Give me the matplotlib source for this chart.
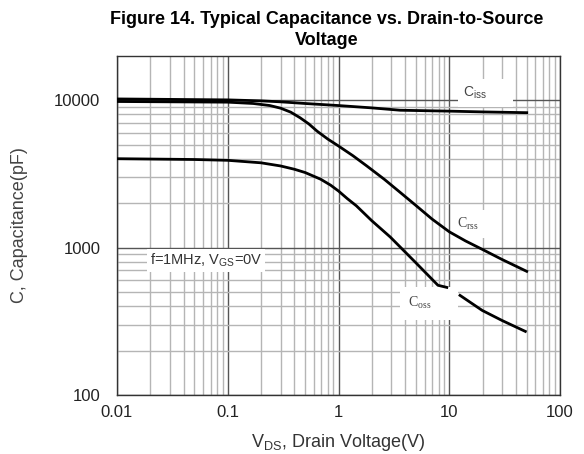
import numpy as np
import matplotlib
matplotlib.use("Agg")
import matplotlib.pyplot as plt
from matplotlib.ticker import FixedLocator, NullFormatter

plt.rcParams["font.family"] = ["Liberation Sans", "DejaVu Sans"]
plt.rcParams["mathtext.fontset"] = "custom"
plt.rcParams["mathtext.rm"] = "Liberation Sans"
plt.rcParams["mathtext.it"] = "Liberation Sans"

# curve data (V, pF)
ciss_v = [0.01, 0.1, 0.2, 0.3, 0.5, 1, 2, 3.6, 10, 20, 50]
ciss_c = [10200, 10050, 9900, 9750, 9500, 9200, 8870, 8550, 8430, 8330, 8230]

crss_v = [0.01, 0.1, 0.17, 0.24, 0.3, 0.37, 0.45, 0.54, 0.64, 0.8, 1, 1.35,
          1.8, 2.6, 3.6, 5, 7, 10, 14, 20, 30, 50]
crss_c = [9800, 9700, 9500, 9200, 8830, 8300, 7600, 6900, 6170, 5450, 4890, 4200,
          3580, 2900, 2370, 1930, 1560, 1280, 1110, 970, 830, 690]

# lower curve is broken by its label box
coss_v1 = [0.01, 0.05, 0.1, 0.2, 0.3, 0.4, 0.5, 0.69, 0.85, 1, 1.2, 1.45, 2, 2.93,
           4.9, 7.9, 9.5]
coss_c1 = [4010, 3960, 3910, 3760, 3580, 3400, 3230, 2910, 2650, 2420, 2150, 1920,
           1520, 1180, 800, 555, 537]
coss_v2 = [12.5, 19.8, 30, 48.6]
coss_c2 = [474, 375, 320, 270]

x_ticks = [0.01, 0.1, 1, 10, 100]
x_labels = ["0.01", "0.1", "1", "10", "100"]
y_ticks = [100, 1000, 10000]
y_labels = ["100", "1000", "10000"]

fig = plt.figure(figsize=(5.84, 4.54), dpi=100)
ax = fig.add_axes([0.2003, 0.130, 0.7587, 0.747])

ax.set_xscale("log")
ax.set_yscale("log")
ax.set_xlim(0.01, 100)
ax.set_ylim(100, 20000)

ax.set_xticks(x_ticks)
ax.set_xticklabels(x_labels)
ax.set_yticks(y_ticks)
ax.set_yticklabels(y_labels)

# minor grid positions (2..9 per decade), none above 10000
x_minor = [m * 10.0 ** d for d in range(-2, 2) for m in range(2, 10)]
y_minor = [m * 10.0 ** d for d in range(2, 4) for m in range(2, 10)]
ax.xaxis.set_minor_locator(FixedLocator(x_minor))
ax.yaxis.set_minor_locator(FixedLocator(y_minor))
ax.xaxis.set_minor_formatter(NullFormatter())
ax.yaxis.set_minor_formatter(NullFormatter())

ax.grid(which="major", color="#555555", linewidth=1.0, zorder=1)
ax.grid(which="minor", color="#b5b5b5", linewidth=1.0, zorder=1)
ax.set_axisbelow(True)
ax.tick_params(which="both", length=0, labelsize=12, labelcolor="#222222")
ax.tick_params(axis="x", pad=7)
ax.tick_params(axis="y", pad=12)

for s in ax.spines.values():
    s.set_color("#333333")
    s.set_linewidth(1.0)

lw = 2.0
ax.plot(ciss_v, ciss_c, color="black", linewidth=lw, zorder=4)
ax.plot(crss_v, crss_c, color="black", linewidth=lw, zorder=4)
ax.plot(coss_v1, coss_c1, color="black", linewidth=lw, zorder=4)
ax.plot(coss_v2, coss_c2, color="black", linewidth=lw, zorder=4)

box = dict(facecolor="white", edgecolor="none", pad=4)
ax.text(13.4, 11150, r"C$_{\mathregular{iss}}$      ", fontsize=10, color="#444444",
        va="center", ha="left", bbox=box, zorder=3)
ax.text(11.8, 1450, r"C$_{\mathregular{rss}}$", fontsize=10, color="#444444",
        family=["Liberation Serif"], va="center", ha="left", bbox=box, zorder=3)
ax.text(4.26, 420, r"C$_{\mathregular{oss}}$      ", fontsize=10, color="#444444",
        family=["Liberation Serif"], va="center", ha="left",
        bbox=dict(facecolor="white", edgecolor="none", pad=6), zorder=3)
ax.text(0.0199, 817, r"f=1MHz, V$_{\mathregular{GS}}$=0V", fontsize=10.5,
        color="#333333", va="center", ha="left",
        bbox=dict(facecolor="white", edgecolor="none", pad=2), zorder=3)

ax.set_xlabel(r"V$_{\mathregular{DS}}$, Drain Voltage(V)", fontsize=13, color="#333333",
              labelpad=9)
ax.set_ylabel("C, Capacitance(pF)", fontsize=13, color="#444444", labelpad=19)

fig.suptitle("Figure 14. Typical Capacitance vs. Drain-to-Source\nVoltage",
             fontsize=13, fontweight="bold", x=0.559, y=0.975, linespacing=1.3)

fig.savefig("out.png", dpi=100)
